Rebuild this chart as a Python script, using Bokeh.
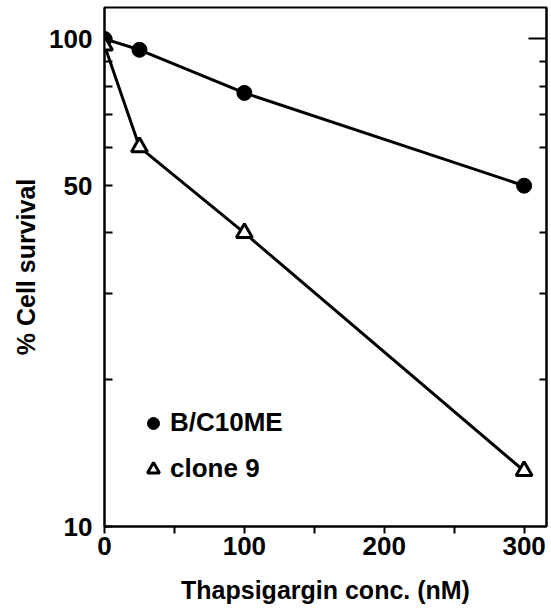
from bokeh.plotting import figure
from bokeh.models import (Range1d, FixedTicker, Legend, LegendItem, LogAxis,
                          BasicTickFormatter)
from bokeh.embed import file_html
from bokeh.resources import INLINE

# data
conc = [0, 25, 100, 300]
bc10me = [100, 95, 77.5, 50]
clone9 = [97, 60, 40, 13]
x_ticks = [0, 100, 200, 300]
x_minor = [50, 150, 250]
y_ticks = [10, 50, 100]
y_minor = [20, 30, 40, 60, 70, 80, 90]
series_names = ["B/C10ME", "clone 9"]

FONT = "Liberation Sans"

p = figure(width=551, height=608, output_backend="svg", toolbar_location=None,
           y_axis_type="log", x_range=Range1d(0, 316), y_range=Range1d(10, 116),
           min_border_left=104, min_border_right=5, min_border_top=7,
           min_border_bottom=82)
p.grid.visible = False
p.outline_line_color = "black"
p.outline_line_width = 2
p.background_fill_color = "white"
p.border_fill_color = "white"

# x axis
xa = p.xaxis[0]
xa.ticker = FixedTicker(ticks=x_ticks, minor_ticks=x_minor)
xa.major_tick_out = 7
xa.major_tick_in = 0
xa.minor_tick_out = 7
xa.minor_tick_in = 0
xa.major_tick_line_width = 2
xa.minor_tick_line_width = 2
xa.axis_line_width = 2
xa.major_label_text_font = FONT
xa.major_label_text_font_size = "26px"
xa.major_label_text_font_style = "bold"
xa.major_label_text_color = "black"
xa.major_label_standoff = 3
xa.axis_label = "Thapsigargin conc. (nM)"
xa.axis_label_text_font = FONT
xa.axis_label_text_font_size = "25px"
xa.axis_label_text_font_style = "bold"
xa.axis_label_text_color = "black"
xa.axis_label_standoff = 18

# y axis
ya = p.yaxis[0]
ya.ticker = FixedTicker(ticks=y_ticks, minor_ticks=y_minor)
ya.formatter = BasicTickFormatter()
ya.major_label_overrides = {t: str(t) for t in y_ticks}
ya.major_tick_out = 0
ya.major_tick_in = 8
ya.minor_tick_out = 0
ya.minor_tick_in = 8
ya.major_tick_line_width = 2
ya.minor_tick_line_width = 2
ya.axis_line_width = 2
ya.major_label_text_font = FONT
ya.major_label_text_font_size = "26px"
ya.major_label_text_font_style = "bold"
ya.major_label_text_color = "black"
ya.major_label_standoff = 12
ya.axis_label = "% Cell survival"
ya.axis_label_text_font = FONT
ya.axis_label_text_font_size = "25px"
ya.axis_label_text_font_style = "bold"
ya.axis_label_text_color = "black"
ya.axis_label_standoff = 6

# right axis (ticks only)
ra = LogAxis(ticker=FixedTicker(ticks=[100], minor_ticks=y_minor),
             formatter=BasicTickFormatter(),
             major_label_overrides={100: ""})
ra.major_tick_out = 0
ra.major_tick_in = 18
ra.minor_tick_out = 0
ra.minor_tick_in = 7
ra.major_tick_line_width = 2
ra.minor_tick_line_width = 2
ra.axis_line_width = 2
ra.major_label_standoff = 0
p.add_layout(ra, "right")

# data
p.line(conc, bc10me, line_color="black", line_width=3)
p.line(conc, clone9, line_color="black", line_width=3)
r1 = p.scatter(conc, bc10me, marker="circle", size=15, fill_color="black",
               line_color="black", line_width=1)
r2 = p.scatter(conc, clone9, marker="triangle", size=16, fill_color="white",
               line_color="black", line_width=3)

legend = Legend(items=[LegendItem(label=series_names[0], renderers=[r1]),
                       LegendItem(label=series_names[1], renderers=[r2])],
                location=(34, 42), border_line_color=None,
                background_fill_color=None, padding=0, margin=0,
                glyph_width=30, glyph_height=30, label_height=30,
                label_standoff=2, spacing=15,
                label_text_font=FONT, label_text_font_size="26px",
                label_text_font_style="bold",
                label_text_color="black")
p.add_layout(legend)

open("out.html", "w").write(file_html(p, INLINE))
